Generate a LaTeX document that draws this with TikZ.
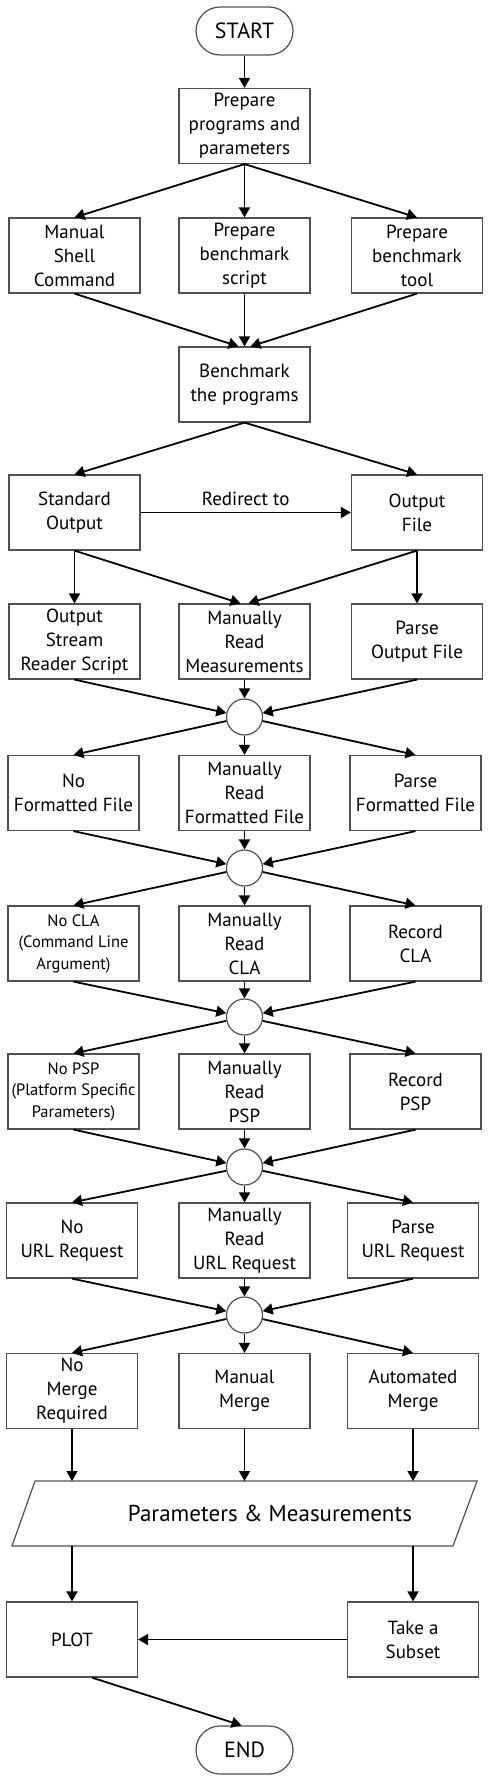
\documentclass[tikz,border=0pt]{standalone}
\usepackage{fontspec}
\setmainfont{PT Sans}
\usetikzlibrary{arrows.meta}
\definecolor{boxgray}{HTML}{505050}
\begin{document}
\begin{tikzpicture}[x=1pt,y=-1pt,
  box/.style={draw=boxgray, line width=1.2pt, minimum width=131pt, minimum height=75pt,
    align=center, inner sep=0pt, font=\fontsize{19}{24}\selectfont},
  smallbox/.style={box, font=\fontsize{16.5}{21.5}\selectfont},
  term/.style={draw=boxgray, line width=1.2pt, rounded corners=24pt, minimum width=97pt,
    minimum height=48pt, inner sep=0pt, font=\fontsize{22}{26}\selectfont},
  junc/.style={circle, draw=boxgray, line width=1.2pt, minimum size=36pt, inner sep=0pt},
  arr/.style={-{Triangle[length=10pt,width=11pt]}, line width=1.8pt}]
\useasboundingbox (0,0) rectangle (489,1780);
\fill[white] (0,0) rectangle (489,1780);

% terminals
\node[term] (start) at (244.5,31) {START};
\node[term] (end) at (244.5,1750) {END};

% top
\node[box] (pp) at (244.5,126) {Prepare\\programs and\\parameters};
\node[box] (msc) at (74.5,255.5) {Manual\\Shell\\Command};
\node[box] (pbs) at (244.5,255.5) {Prepare\\benchmark\\script};
\node[box] (pbt) at (417,255.5) {Prepare\\benchmark\\tool};
\node[box] (bench) at (244.5,384.5) {Benchmark\\the programs};
\node[box] (so) at (74.5,512.5) {Standard\\Output};
\node[box] (of) at (417,512.5) {Output\\File};

% row: output handling
\node[box] (osr) at (74.5,641.5) {Output\\Stream\\Reader Script};
\node[box] (mrm) at (244.5,641.5) {Manually\\Read\\Measurements};
\node[box] (pof) at (417,641.5) {Parse\\Output File};
\node[junc] (c1) at (244.5,717) {};

% row: formatted file
\node[box] (nff) at (73.5,793) {No\\Formatted File};
\node[box] (mrf) at (244.5,793) {Manually\\Read\\Formatted File};
\node[box] (pff) at (415.5,793) {Parse\\Formatted File};
\node[junc] (c2) at (244.5,868) {};

% row: CLA
\node[smallbox] (ncla) at (73.5,943.5) {No CLA\\(Command Line\\Argument)};
\node[box] (mrcla) at (244.5,943.5) {Manually\\Read\\CLA};
\node[box] (rcla) at (415.5,943.5) {Record\\CLA};
\node[junc] (c3) at (244.5,1017) {};

% row: PSP
\node[smallbox] (npsp) at (73.5,1091.5) {No PSP\\(Platform Specific\\Parameters)};
\node[box] (mrpsp) at (244.5,1091.5) {Manually\\Read\\PSP};
\node[box] (rpsp) at (415.5,1091.5) {Record\\PSP};
\node[junc] (c4) at (244.5,1167) {};

% row: URL
\node[box] (nurl) at (72,1240.5) {No\\URL Request};
\node[box] (mrurl) at (244.5,1240.5) {Manually\\Read\\URL Request};
\node[box] (purl) at (413,1240.5) {Parse\\URL Request};
\node[junc] (c5) at (244.5,1315) {};

% row: merge
\node[box] (nmr) at (72,1391) {No\\Merge\\Required};
\node[box] (mm) at (244.5,1391) {Manual\\Merge};
\node[box] (am) at (413,1391) {Automated\\Merge};

% parallelogram
\draw[boxgray, line width=1.2pt] (35,1481) coordinate (ptl) -- (477,1481) coordinate (ptr)
  -- (453,1546) coordinate (pbr) -- (12,1546) coordinate (pbl) -- cycle;
\coordinate (ptop) at (244.5,1481);
\coordinate (pbot) at (244.5,1546);
\node[font=\fontsize{23}{27}\selectfont] (pm) at (270,1513) {Parameters \& Measurements};

% bottom
\node[box] (plot) at (72,1639.5) {PLOT};
\node[box] (sub) at (413,1639.5) {Take a\\Subset};

% connectors
\draw[arr] (start.south) -- (pp.north);
\draw[arr] (pp.south) -- (msc.north);
\draw[arr] (pp.south) -- (pbs.north);
\draw[arr] (pp.south) -- (pbt.north);
\draw[arr] (msc.south) -- ([xshift=-6pt]bench.north);
\draw[arr] (pbs.south) -- (bench.north);
\draw[arr] (pbt.south) -- ([xshift=6pt]bench.north);
\draw[arr] (bench.south) -- (so.north);
\draw[arr] (bench.south) -- (of.north);
\draw[arr] (so.east) -- (of.west) node[midway, above=3pt, font=\fontsize{19}{23}\selectfont] (rd) {Redirect to};
\draw[arr] (so.south) -- (osr.north);
\draw[arr] (so.south) -- ([xshift=-4pt]mrm.north);
\draw[arr] (of.south) -- ([xshift=4pt]mrm.north);
\draw[arr] (of.south) -- (pof.north);

\foreach \l/\m/\r/\c/\nl/\nm/\nr in {osr/mrm/pof/c1/nff/mrf/pff, nff/mrf/pff/c2/ncla/mrcla/rcla,
    ncla/mrcla/rcla/c3/npsp/mrpsp/rpsp, npsp/mrpsp/rpsp/c4/nurl/mrurl/purl,
    nurl/mrurl/purl/c5/nmr/mm/am} {
  \draw[arr] (\l.south) -- (\c);
  \draw[arr] (\m.south) -- (\c.north);
  \draw[arr] (\r.south) -- (\c);
  \draw[arr] (\c) -- (\nl.north);
  \draw[arr] (\c.south) -- (\nm.north);
  \draw[arr] (\c) -- (\nr.north);
}

\draw[arr] (nmr.south) -- (nmr.south |- ptop);
\draw[arr] (mm.south) -- (ptop);
\draw[arr] (am.south) -- (am.south |- ptop);
\draw[arr] (plot.north |- pbot) -- (plot.north);
\draw[arr] (sub.north |- pbot) -- (sub.north);
\draw[arr] (sub.west) -- (plot.east);
\draw[arr] ([xshift=20pt]plot.south) -- ([xshift=-3pt]end.north);
\end{tikzpicture}
\end{document}
